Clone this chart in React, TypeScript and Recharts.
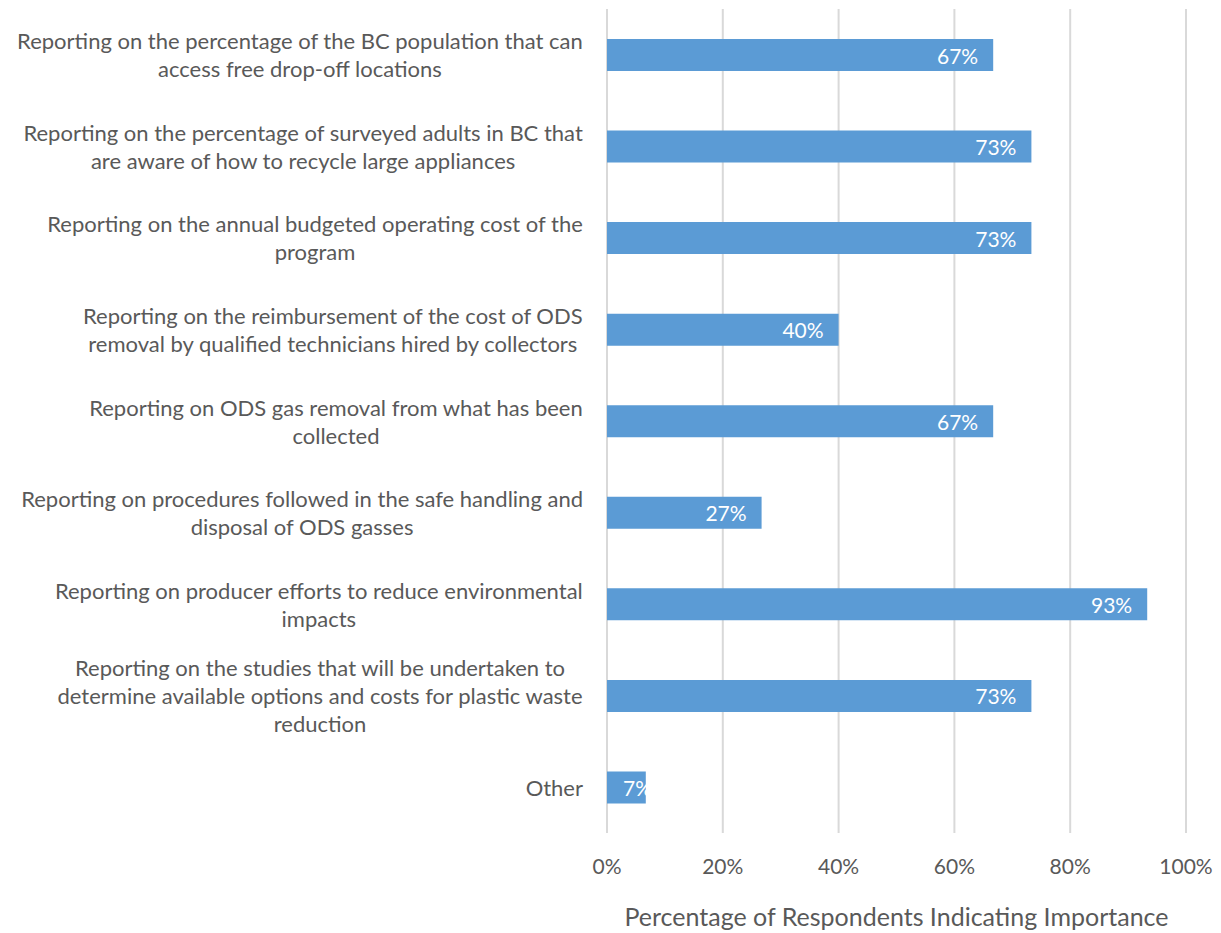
import React from 'react';
import { BarChart, Bar, XAxis, YAxis, CartesianGrid, LabelList } from 'recharts';

const categories: string[] = [
  'Reporting on the percentage of the BC population that can\naccess free drop-off locations',
  'Reporting on the percentage of surveyed adults in BC that\nare aware of how to recycle large appliances',
  'Reporting on the annual budgeted operating cost of the\nprogram',
  'Reporting on the reimbursement of the cost of ODS\nremoval by qualified technicians hired by collectors',
  'Reporting on ODS gas removal from what has been\ncollected',
  'Reporting on procedures followed in the safe handling and\ndisposal of ODS gasses',
  'Reporting on producer efforts to reduce environmental\nimpacts',
  'Reporting on the studies that will be undertaken to\ndetermine available options and costs for plastic waste\nreduction',
  'Other',
];

const values: number[] = [0.667, 0.733, 0.733, 0.4, 0.667, 0.267, 0.933, 0.733, 0.067];

const xTicks: number[] = [0, 0.2, 0.4, 0.6, 0.8, 1];

const xTitle = 'Percentage of Respondents Indicating Importance';

const data = categories.map((c, i) => ({ name: c, value: values[i] }));

const FONT = 'Lato, "Open Sans", sans-serif';
const TEXT = '#595959';
const Y_FONT_SIZE = 22;

let measureCtx: CanvasRenderingContext2D | null = null;
const measure = (s: string): number => {
  if (!measureCtx) {
    const c = document.createElement('canvas');
    measureCtx = c.getContext('2d');
  }
  if (!measureCtx) return s.length * 10;
  measureCtx.font = `${Y_FONT_SIZE}px Lato`;
  return measureCtx.measureText(s).width;
};

const YTick = (props: any) => {
  const { y, payload } = props;
  const lines: string[] = String(payload.value).split('\n');
  const lh = 28;
  const start = y - ((lines.length - 1) * lh) / 2;
  const maxW = Math.max(...lines.map(measure));
  const cx = 583 - maxW / 2;
  return (
    <g>
      {lines.map((ln, i) => (
        <text
          key={i}
          x={cx}
          y={start + i * lh}
          textAnchor="middle"
          dominantBaseline="central"
          fill={TEXT}
          fontSize={Y_FONT_SIZE}
          fontFamily={FONT}
        >
          {ln}
        </text>
      ))}
    </g>
  );
};

const XTick = (props: any) => {
  const { x, y, payload } = props;
  return (
    <text
      x={x}
      y={y + 24}
      textAnchor="middle"
      dominantBaseline="central"
      fill={TEXT}
      fontSize={21}
      fontFamily={FONT}
    >
      {Math.round(payload.value * 100) + '%'}
    </text>
  );
};

const BarLabel = (props: any) => {
  const { x, y, width, height, value } = props;
  const txt = Math.round(value * 100) + '%';
  const fits = width > 70;
  return (
    <text
      x={fits ? x + width - 15 : x + 16}
      y={y + height / 2}
      textAnchor={fits ? 'end' : 'start'}
      dominantBaseline="central"
      fill="#ffffff"
      fontSize={21}
      fontFamily={FONT}
    >
      {txt}
    </text>
  );
};

export default function App() {
  return (
    <div style={{ position: 'absolute', left: 0, top: 0, width: 1221, height: 933, background: '#fff' }}>
      <BarChart
        width={1221}
        height={933}
        data={data}
        layout="vertical"
        margin={{ top: 9, right: 35, bottom: 0, left: 0 }}
        barCategoryGap={0}
      >
        <CartesianGrid horizontal={false} stroke="#d9d9d9" strokeWidth={2} />
        <XAxis
          type="number"
          domain={[0, 1]}
          ticks={xTicks}
          axisLine={false}
          tickLine={false}
          tick={<XTick />}
          height={100}
          interval={0}
          label={{
            value: xTitle,
            position: 'insideBottom',
            offset: 7,
            fill: TEXT,
            fontSize: 25,
            fontFamily: FONT,
          }}
        />
        <YAxis
          type="category"
          dataKey="name"
          width={607}
          axisLine={false}
          tickLine={false}
          tick={<YTick />}
          interval={0}
        />
        <Bar dataKey="value" fill="#5b9bd5" barSize={32} isAnimationActive={false}>
          <LabelList dataKey="value" content={<BarLabel />} />
        </Bar>
      </BarChart>
    </div>
  );
}
